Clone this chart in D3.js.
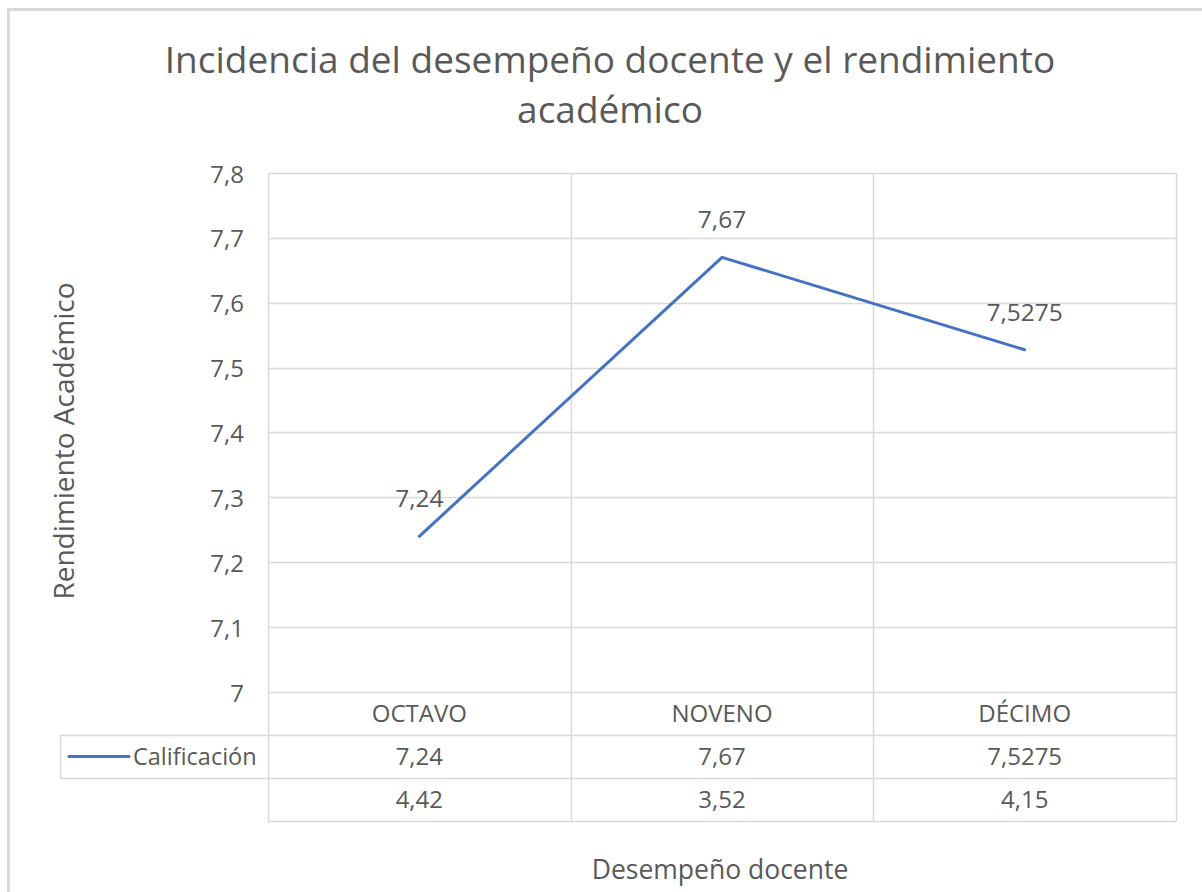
<!DOCTYPE html>
<html>
<head>
<meta charset="utf-8">
<script src="https://cdn.jsdelivr.net/npm/d3@7"></script>
<style>
  html, body { margin: 0; padding: 0; background: #ffffff; }
  svg { display: block; }
  text { font-family: "Open Sans", "Noto Sans", sans-serif; fill: #595959; }
</style>
</head>
<body>
<svg id="chart" width="1202" height="892"></svg>
<script>
// Grades per school year
const categories = ["OCTAVO", "NOVENO", "DÉCIMO"];
const calificacion = [7.24, 7.67, 7.5275];
const calificacionLabels = ["7,24", "7,67", "7,5275"];
// Second table row (teacher performance), shown only in the data table
const desempeno = [4.42, 3.52, 4.15];
const desempenoLabels = ["4,42", "3,52", "4,15"];
const yTicks = [7, 7.1, 7.2, 7.3, 7.4, 7.5, 7.6, 7.7, 7.8];
const seriesName = "Calificación";
const titleLines = ["Incidencia del desempeño docente y el rendimiento", "académico"];
const yTitle = "Rendimiento Académico";
const xTitle = "Desempeño docente";

const svg = d3.select("#chart");
const grid = "#d9d9d9";
const lineColor = "#4472C4";

const plot = { left: 268, right: 1176, top: 173, bottom: 692 };
const rows = [692, 735, 778, 821];
const legendLeft = 60;

const x = d3.scaleBand().domain(categories).range([plot.left, plot.right]).padding(0);
const y = d3.scaleLinear().domain([7, 7.8]).range([plot.bottom, plot.top]);
const fmt = v => String(+v.toFixed(1)).replace(".", ",");

// Chart frame
svg.append("rect")
  .attr("x", 8.5).attr("y", 9.5)
  .attr("width", 1220).attr("height", 900)
  .attr("fill", "none").attr("stroke", grid).attr("stroke-width", 3);

// Title
svg.append("text")
  .attr("x", 610).attr("y", 73)
  .attr("text-anchor", "middle")
  .style("font-size", "37px")
  .selectAll("tspan").data(titleLines).join("tspan")
  .attr("x", 610).attr("dy", (d, i) => i === 0 ? 0 : 50)
  .text(d => d);

// Horizontal gridlines
svg.append("g").selectAll("line").data(yTicks).join("line")
  .attr("x1", plot.left).attr("x2", plot.right)
  .attr("y1", d => Math.round(y(d)) + 0.5).attr("y2", d => Math.round(y(d)) + 0.5)
  .attr("stroke", grid).attr("stroke-width", 1.5);

// Vertical category boundaries running through plot and table
const bounds = categories.map(c => x(c)).concat([plot.right]);
svg.append("g").selectAll("line").data(bounds).join("line")
  .attr("x1", d => Math.round(d) + 0.5).attr("x2", d => Math.round(d) + 0.5)
  .attr("y1", plot.top).attr("y2", rows[3])
  .attr("stroke", grid).attr("stroke-width", 1.5);

// Table row lines
svg.append("g").selectAll("line").data(rows.slice(1)).join("line")
  .attr("x1", (d, i) => i < 2 ? legendLeft : plot.left).attr("x2", plot.right)
  .attr("y1", d => d + 0.5).attr("y2", d => d + 0.5)
  .attr("stroke", grid).attr("stroke-width", 1.5);
svg.append("line")
  .attr("x1", legendLeft + 0.5).attr("x2", legendLeft + 0.5)
  .attr("y1", rows[1]).attr("y2", rows[2])
  .attr("stroke", grid).attr("stroke-width", 1.5);

// Y axis tick labels
svg.append("g").selectAll("text").data(yTicks).join("text")
  .attr("x", 244).attr("y", d => y(d))
  .attr("text-anchor", "end").attr("dominant-baseline", "central")
  .style("font-size", "24px")
  .text(fmt);

// Category labels (first table row)
svg.append("g").selectAll("text").data(categories).join("text")
  .attr("x", d => x(d) + x.bandwidth() / 2).attr("y", (rows[0] + rows[1]) / 2 - 1)
  .attr("text-anchor", "middle").attr("dominant-baseline", "central")
  .style("font-size", "24px")
  .text(d => d);

// Table values
svg.append("g").selectAll("text").data(calificacionLabels).join("text")
  .attr("x", (d, i) => x(categories[i]) + x.bandwidth() / 2).attr("y", (rows[1] + rows[2]) / 2 - 1)
  .attr("text-anchor", "middle").attr("dominant-baseline", "central")
  .style("font-size", "24px")
  .text(d => d);
svg.append("g").selectAll("text").data(desempenoLabels).join("text")
  .attr("x", (d, i) => x(categories[i]) + x.bandwidth() / 2).attr("y", (rows[2] + rows[3]) / 2 - 1)
  .attr("text-anchor", "middle").attr("dominant-baseline", "central")
  .style("font-size", "24px")
  .text(d => d);

// Legend key in the table
const legY = (rows[1] + rows[2]) / 2;
svg.append("line")
  .attr("x1", 69).attr("x2", 129).attr("y1", legY).attr("y2", legY)
  .attr("stroke", lineColor).attr("stroke-width", 3).attr("stroke-linecap", "round");
svg.append("text")
  .attr("x", 133).attr("y", legY - 1)
  .attr("dominant-baseline", "central")
  .style("font-size", "23.5px")
  .text(seriesName);

// Series line
const pts = categories.map((c, i) => ({ c, v: calificacion[i], label: calificacionLabels[i] }));
const line = d3.line().x(d => x(d.c) + x.bandwidth() / 2).y(d => y(d.v));
svg.append("path").datum(pts)
  .attr("d", line)
  .attr("fill", "none").attr("stroke", lineColor)
  .attr("stroke-width", 3).attr("stroke-linejoin", "round").attr("stroke-linecap", "round");

// Data labels
svg.append("g").selectAll("text").data(pts).join("text")
  .attr("x", d => x(d.c) + x.bandwidth() / 2).attr("y", d => y(d.v) - 29)
  .attr("text-anchor", "middle")
  .style("font-size", "24.5px")
  .text(d => d.label);

// Axis titles
svg.append("text")
  .attr("transform", "translate(74,441) rotate(-90)")
  .attr("text-anchor", "middle")
  .style("font-size", "28px")
  .text(yTitle);
svg.append("text")
  .attr("x", 720).attr("y", 879)
  .attr("text-anchor", "middle")
  .style("font-size", "26.5px")
  .text(xTitle);
</script>
</body>
</html>
